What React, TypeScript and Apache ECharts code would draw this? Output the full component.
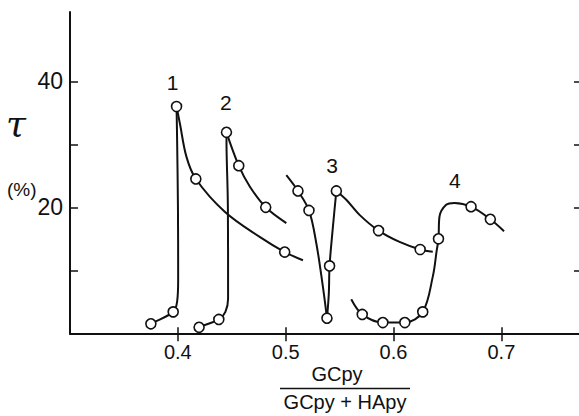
import React, { useEffect, useRef } from "react";
import * as echarts from "echarts";

// traced curve segments (x = GCpy/(GCpy+HApy), y = tau %)
const curve1Rise = [[0.371, 1.0], [0.375, 1.5], [0.3957, 3.4], [0.3993, 5.0], [0.4003, 8.5], [0.4001, 20], [0.3993, 31], [0.3988, 36.0]];
const curve1Fall = [[0.3988, 36.0], [0.4019, 33.3], [0.408, 28.0], [0.4167, 24.5], [0.4435, 19.3], [0.4759, 15.3], [0.4991, 12.9], [0.516, 11.6]];
const curve2Rise = [[0.4157, 0.4], [0.4197, 0.95], [0.438, 2.2], [0.4441, 3.4], [0.4466, 5.5], [0.4464, 20], [0.4452, 29], [0.4451, 31.9]];
const curve2Fall = [[0.4451, 31.9], [0.4565, 26.6], [0.4667, 23.3], [0.4815, 20.0], [0.5006, 17.5]];
const curve3Fall1 = [[0.5006, 25.1], [0.5114, 22.6], [0.5216, 19.5], [0.5284, 14.3], [0.5345, 7.4], [0.5383, 2.4]];
const curve3Rise = [[0.5383, 2.4], [0.54, 6.3], [0.5407, 10.7], [0.5438, 16.9], [0.547, 22.6]];
const curve3Fall2 = [[0.547, 22.6], [0.5562, 21.2], [0.5685, 18.8], [0.5861, 16.3], [0.6056, 14.5], [0.6247, 13.3], [0.6364, 12.95]];
const curve4 = [[0.5608, 5.4], [0.571, 3.0], [0.5901, 1.7], [0.6105, 1.7], [0.6271, 3.4], [0.6364, 9.0], [0.6401, 13.2], [0.6417, 15.0], [0.6426, 18.5], [0.6488, 20.4], [0.6565, 20.7], [0.6719, 20.1], [0.6898, 18.1], [0.7025, 16.2]];

// measured points
const points1 = [[0.375, 1.5], [0.3957, 3.4], [0.3988, 36.0], [0.4167, 24.5], [0.4991, 12.9]];
const points2 = [[0.4197, 0.95], [0.438, 2.2], [0.4451, 31.9], [0.4565, 26.6], [0.4815, 20.0]];
const points3 = [[0.5114, 22.6], [0.5216, 19.5], [0.5383, 2.4], [0.5407, 10.7], [0.547, 22.6], [0.5861, 16.3], [0.6247, 13.3]];
const points4 = [[0.571, 3.0], [0.5901, 1.7], [0.6105, 1.7], [0.6271, 3.4], [0.6417, 15.0], [0.6719, 20.1], [0.6898, 18.1]];

// curve numbers
const curveNames = ["1", "2", "3", "4"];
const curveNamePos = [[0.3951, 39.8], [0.4444, 36.6], [0.5431, 26.7], [0.6569, 24.2]];

const xTicks = [0.4, 0.5, 0.6, 0.7];
const yTicks = [10, 20, 30, 40];
const yLabels = [20, 40];

const FONT = "Liberation Sans";
const INK = "#111";

export default function App() {
  const ref = useRef<HTMLDivElement>(null);
  useEffect(() => {
    if (!ref.current) return;
    const chart = echarts.init(ref.current, undefined, { renderer: "svg" });
    const segments = [curve1Rise, curve1Fall, curve2Rise, curve2Fall, curve3Fall1, curve3Rise, curve3Fall2, curve4];
    const lineSeries = segments.map((seg) => ({
      type: "line",
      data: seg,
      smooth: 0.35,
      showSymbol: false,
      symbol: "none",
      lineStyle: { color: INK, width: 2 },
      z: 2,
      silent: true,
    }));
    const markerSeries = [points1, points2, points3, points4].map((pts) => ({
      type: "scatter",
      data: pts,
      symbol: "circle",
      symbolSize: 10,
      itemStyle: { color: "#fff", borderColor: INK, borderWidth: 1.6, opacity: 1 },
      z: 5,
      silent: true,
    }));
    const labelSeries = {
      type: "scatter",
      data: curveNamePos.map((p, i) => ({ value: p, name: curveNames[i] })),
      symbolSize: 0,
      itemStyle: { opacity: 1 },
      label: {
        show: true,
        position: "inside",
        formatter: (p: any) => p.name,
        fontSize: 21,
        fontFamily: FONT,
        color: INK,
      },
      silent: true,
      z: 6,
    };
    const xBase = {
      type: "value",
      min: 0.3,
      max: 0.772,
      interval: 0.1,
      splitLine: { show: false },
    };
    const yBase = {
      type: "value",
      min: 0,
      max: 51,
      interval: 10,
      splitLine: { show: false },
    };
    chart.setOption({
      animation: false,
      backgroundColor: "#fff",
      grid: { left: 70, right: 0, top: 12, bottom: 82.7, containLabel: false },
      xAxis: [
        {
          ...xBase,
          position: "bottom",
          axisLine: { show: true, lineStyle: { color: INK, width: 2 } },
          axisTick: { show: true, inside: true, length: 6, customValues: xTicks, lineStyle: { color: INK, width: 1.5 } },
          axisLabel: {
            show: true,
            customValues: xTicks,
            formatter: (v: number) => v.toFixed(1),
            fontSize: 20,
            fontFamily: FONT,
            color: INK,
            margin: 9,
          },
        },
        {
          ...xBase,
          position: "top",
          axisLine: { show: true, lineStyle: { color: INK, width: 1.5 } },
          axisTick: { show: true, inside: true, length: 8, customValues: xTicks, lineStyle: { color: INK, width: 1.5 } },
          axisLabel: { show: false },
        },
      ],
      yAxis: [
        {
          ...yBase,
          position: "left",
          axisLine: { show: true, lineStyle: { color: INK, width: 2 } },
          axisTick: { show: true, inside: true, length: 8, customValues: yTicks, lineStyle: { color: INK, width: 1.5 } },
          axisLabel: {
            show: true,
            customValues: yLabels,
            fontSize: 23,
            fontFamily: FONT,
            color: INK,
            margin: 7,
          },
        },
        {
          ...yBase,
          position: "right",
          axisLine: { show: false },
          axisTick: { show: true, inside: true, length: 5, customValues: yTicks, lineStyle: { color: INK, width: 1.5 } },
          axisLabel: { show: false },
        },
      ],
      graphic: [
        {
          type: "text",
          left: 6,
          top: 105,
          style: { text: "τ", fontSize: 36, fontStyle: "italic", fontFamily: "DejaVu Serif", fill: INK },
        },
        {
          type: "text",
          left: 7,
          top: 180,
          style: { text: "(%)", fontSize: 19, fontFamily: FONT, fill: INK },
        },
        {
          type: "text",
          x: 337,
          y: 384,
          style: { text: "GCpy", fontSize: 20, fontFamily: FONT, fill: INK, align: "center", verticalAlign: "bottom" },
        },
        {
          type: "line",
          shape: { x1: 280, y1: 388.5, x2: 410, y2: 388.5 },
          style: { stroke: INK, lineWidth: 1.5 },
        },
        {
          type: "text",
          x: 345,
          y: 392,
          style: { text: "GCpy + HApy", fontSize: 20, fontFamily: FONT, fill: INK, align: "center", verticalAlign: "top" },
        },
      ],
      series: [...lineSeries, ...markerSeries, labelSeries],
    });
    return () => chart.dispose();
  }, []);
  return <div ref={ref} style={{ width: 579, height: 416, position: "absolute", left: 0, top: 0 }} />;
}
